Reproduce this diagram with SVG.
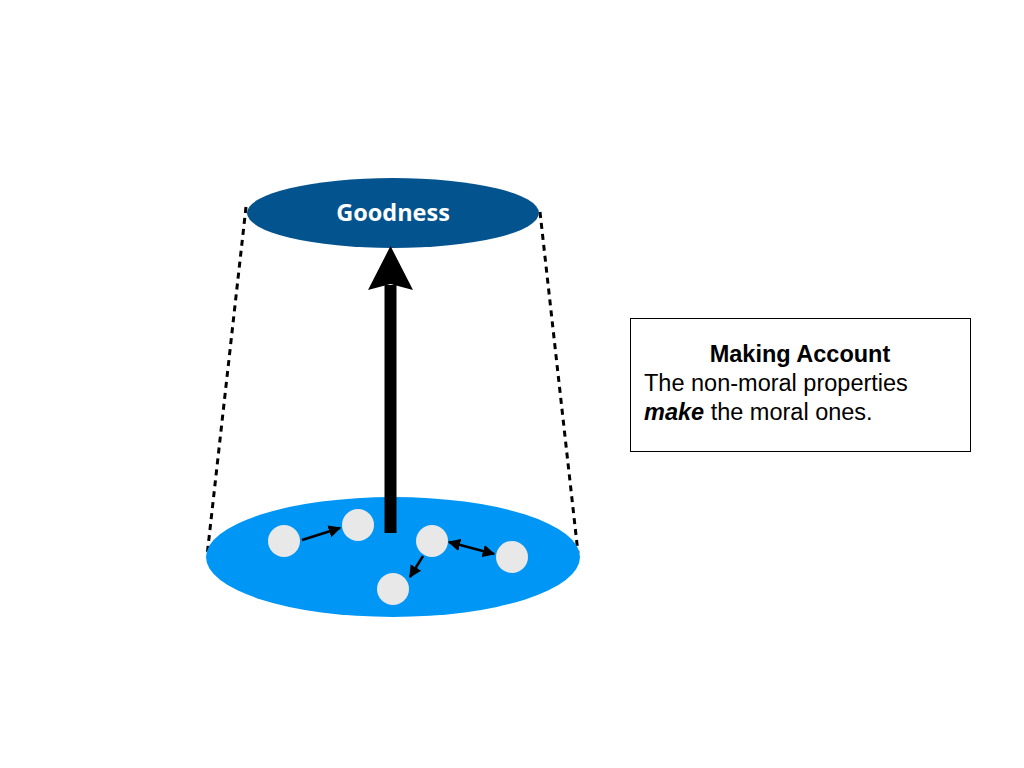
<svg xmlns="http://www.w3.org/2000/svg" width="1024" height="768" viewBox="0 0 1024 768">
<defs>
<style>
.dash{stroke:#000;stroke-width:3;stroke-dasharray:6,5;fill:none}
.dot{fill:#e8e8e8}
.link{stroke:#000;stroke-width:2.5;fill:none}
.t{font-family:"Liberation Sans",Arial,sans-serif;font-size:23.5px;fill:#000}
</style>
<marker id="ah" viewBox="0 0 10 10" refX="9" refY="5" markerWidth="5" markerHeight="5" orient="auto-start-reverse" markerUnits="strokeWidth">
<path d="M0,0 L10,5 L0,10 z" fill="#000"/>
</marker>
</defs>
<rect width="1024" height="768" fill="#fff"/>
<g id="connectors">
<line class="dash" x1="246" y1="207" x2="207" y2="556"/>
<line class="dash" x1="540" y1="212" x2="578" y2="553"/>
</g>
<g id="base">
<ellipse cx="393" cy="557" rx="187" ry="60" fill="#0096f5"/>
</g>
<g id="goodness">
<ellipse cx="393" cy="213" rx="146" ry="35" fill="#03538f"/>
<text x="393" y="221" text-anchor="middle" font-family="'Open Sans',sans-serif" font-weight="bold" font-size="23.5" fill="#fff">Goodness</text>
</g>
<g id="big-arrow">
<rect x="384.5" y="285" width="12" height="248" fill="#000"/>
<polygon points="390.5,246 413,290 390.5,284 368,290" fill="#000"/>
</g>
<g id="props">
<circle id="p1" class="dot" cx="284" cy="541" r="16"/>
<circle id="p2" class="dot" cx="358" cy="525" r="16"/>
<circle id="p3" class="dot" cx="432" cy="541" r="16"/>
<circle id="p4" class="dot" cx="512" cy="557" r="16"/>
<circle id="p5" class="dot" cx="393" cy="589" r="16"/>
</g>
<g id="small-connectors">
<line class="link" x1="302" y1="540" x2="340" y2="528" marker-end="url(#ah)"/>
<line class="link" x1="449" y1="542" x2="494" y2="554" marker-start="url(#ah)" marker-end="url(#ah)"/>
<line class="link" x1="423" y1="556" x2="410" y2="577" marker-end="url(#ah)"/>
</g>
<g id="making-account">
<rect x="630.5" y="318.5" width="340" height="133" fill="#fff" stroke="#000" stroke-width="1"/>
<text class="t" x="800" y="362" text-anchor="middle" font-weight="bold">Making Account</text>
<text class="t" x="644" y="391">The non-moral properties</text>
<text class="t" x="644" y="420"><tspan font-style="italic" font-weight="bold">make</tspan> the moral ones.</text>
</g>
</svg>
